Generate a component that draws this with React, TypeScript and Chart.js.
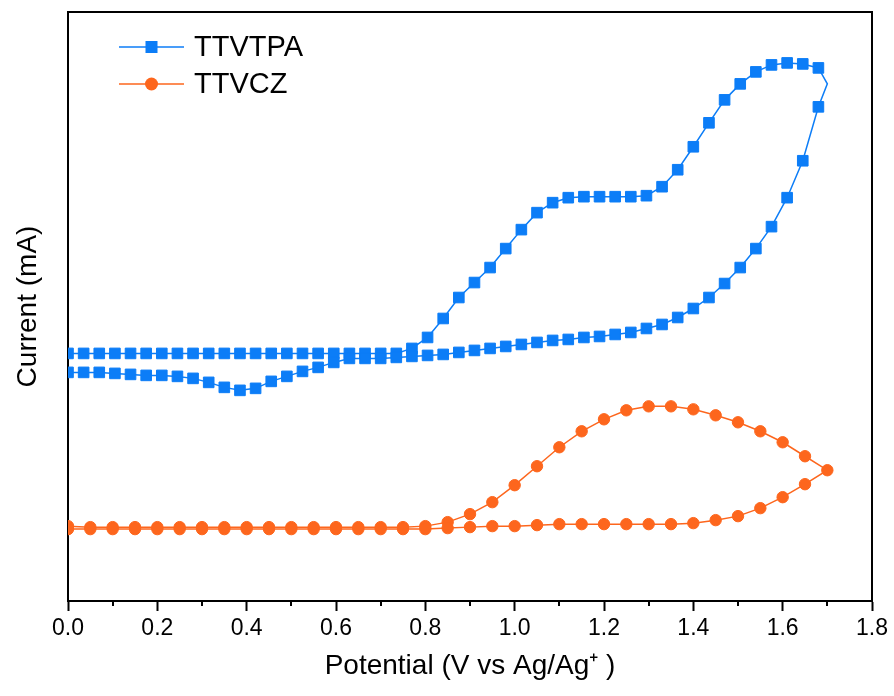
import React, { useEffect, useRef } from 'react';
import { Chart, registerables } from 'chart.js';

Chart.register(...registerables);

// ---- Data (current in arbitrary units) ----
const tpaForwardV = [
  0, 0.035, 0.07, 0.105, 0.14, 0.175, 0.21, 0.245, 0.28, 0.315, 0.35, 0.385, 0.42, 0.455, 0.49, 0.525,
  0.56, 0.595, 0.63, 0.665, 0.7, 0.735, 0.77, 0.805, 0.84, 0.875, 0.91, 0.945, 0.98, 1.015, 1.05, 1.085,
  1.12, 1.155, 1.19, 1.225, 1.26, 1.295, 1.33, 1.365, 1.4, 1.435, 1.47, 1.505, 1.54, 1.575, 1.61, 1.645,
  1.68, 1.7,
];
const tpaForwardI = [
  2.48, 2.48, 2.48, 2.48, 2.48, 2.48, 2.48, 2.48, 2.48, 2.48, 2.48, 2.48, 2.48, 2.48, 2.48, 2.48,
  2.48, 2.48, 2.48, 2.48, 2.48, 2.48, 2.53, 2.64, 2.83, 3.04, 3.19, 3.34, 3.53, 3.72, 3.89, 3.99,
  4.04, 4.05, 4.05, 4.05, 4.05, 4.06, 4.15, 4.32, 4.55, 4.79, 5.02, 5.18, 5.3, 5.37, 5.39, 5.38,
  5.34, 5.18,
];
const tpaReverseV = [
  1.68, 1.645, 1.61, 1.575, 1.54, 1.505, 1.47, 1.435, 1.4, 1.365, 1.33, 1.295, 1.26, 1.225, 1.19, 1.155,
  1.12, 1.085, 1.05, 1.015, 0.98, 0.945, 0.91, 0.875, 0.84, 0.805, 0.77, 0.735, 0.7, 0.665, 0.63, 0.595,
  0.56, 0.525, 0.49, 0.455, 0.42, 0.385, 0.35, 0.315, 0.28, 0.245, 0.21, 0.175, 0.14, 0.105, 0.07, 0.035,
  0,
];
const tpaReverseI = [
  4.95, 4.41, 4.04, 3.75, 3.53, 3.34, 3.18, 3.04, 2.93, 2.84, 2.77, 2.73, 2.69, 2.67, 2.65, 2.64,
  2.62, 2.61, 2.59, 2.57, 2.55, 2.53, 2.51, 2.49, 2.47, 2.46, 2.45, 2.44, 2.43, 2.43, 2.43, 2.39,
  2.34, 2.3, 2.25, 2.2, 2.13, 2.11, 2.14, 2.19, 2.23, 2.25, 2.26, 2.26, 2.27, 2.28, 2.29, 2.29,
  2.29,
];

const czForwardV = [
  0, 0.05, 0.1, 0.15, 0.2, 0.25, 0.3, 0.35, 0.4, 0.45, 0.5, 0.55, 0.6, 0.65, 0.7, 0.75, 0.8,
  0.85, 0.9, 0.95, 1.0, 1.05, 1.1, 1.15, 1.2, 1.25, 1.3, 1.35, 1.4, 1.45, 1.5, 1.55, 1.6, 1.65, 1.7,
];
const czForwardI = [
  0.75, 0.74, 0.74, 0.74, 0.74, 0.74, 0.74, 0.74, 0.74, 0.74, 0.74, 0.74, 0.74, 0.74, 0.74, 0.74, 0.75,
  0.79, 0.87, 0.99, 1.16, 1.35, 1.54, 1.7, 1.82, 1.91, 1.95, 1.95, 1.92, 1.86, 1.79, 1.7, 1.59, 1.45, 1.31,
];
const czReverseV = [
  1.65, 1.6, 1.55, 1.5, 1.45, 1.4, 1.35, 1.3, 1.25, 1.2, 1.15, 1.1, 1.05, 1.0, 0.95, 0.9, 0.85,
  0.8, 0.75, 0.7, 0.65, 0.6, 0.55, 0.5, 0.45, 0.4, 0.35, 0.3, 0.25, 0.2, 0.15, 0.1, 0.05, 0,
];
const czReverseI = [
  1.17, 1.04, 0.93, 0.85, 0.81, 0.78, 0.77, 0.77, 0.77, 0.77, 0.77, 0.77, 0.76, 0.75, 0.75, 0.74, 0.73,
  0.72, 0.72, 0.72, 0.72, 0.72, 0.72, 0.72, 0.72, 0.72, 0.72, 0.72, 0.72, 0.72, 0.72, 0.72, 0.72, 0.72,
];

const seriesLabels = ['TTVTPA', 'TTVCZ'];
const xMin = 0;
const xMax = 1.8;
const xStep = 0.2;
const yMin = 0;
const yMax = 5.9;
const xTitle = 'Potential (V vs Ag/Ag\u207A )';
const yTitle = 'Current (mA)';

const BLUE = '#0c7df7';
const ORANGE = '#fd661d';
const FONT = '"Liberation Sans", Arial, Helvetica, sans-serif';

const toPoints = (v1: number[], i1: number[], v2: number[], i2: number[]) =>
  [...v1.map((x, k) => ({ x, y: i1[k] })), ...v2.map((x, k) => ({ x, y: i2[k] }))];

const boxPlugin = {
  id: 'boxFrame',
  afterDraw(chart: any) {
    const { ctx, chartArea } = chart;
    ctx.save();
    ctx.strokeStyle = '#000';
    ctx.lineWidth = 2;
    ctx.beginPath();
    ctx.moveTo(chartArea.left, chartArea.top);
    ctx.lineTo(chartArea.right, chartArea.top);
    ctx.lineTo(chartArea.right, chartArea.bottom);
    ctx.stroke();
    ctx.restore();
  },
};

const minorTickPlugin = {
  id: 'minorTicks',
  afterDraw(chart: any) {
    const s = chart.scales.x;
    const ticks = s.ticks;
    const { ctx } = chart;
    ctx.save();
    ctx.strokeStyle = '#000';
    ctx.lineWidth = 2;
    for (let k = 0; k < ticks.length - 1; k++) {
      const mid = (ticks[k].value + ticks[k + 1].value) / 2;
      const px = Math.round(s.getPixelForValue(mid));
      ctx.beginPath();
      ctx.moveTo(px, s.top);
      ctx.lineTo(px, s.top + 5);
      ctx.stroke();
    }
    ctx.restore();
  },
};

const legendPlugin = {
  id: 'insideLegend',
  afterDraw(chart: any) {
    const { ctx, chartArea } = chart;
    ctx.save();
    chart.data.datasets.forEach((ds: any, i: number) => {
      const y = chartArea.top + 35 + i * 37;
      const x0 = chartArea.left + 51;
      const x1 = chartArea.left + 116;
      const xm = (x0 + x1) / 2;
      ctx.strokeStyle = ds.borderColor;
      ctx.lineWidth = 1.5;
      ctx.beginPath();
      ctx.moveTo(x0, y);
      ctx.lineTo(x1, y);
      ctx.stroke();
      ctx.fillStyle = ds.backgroundColor;
      if (ds.pointStyle === 'rect') {
        ctx.fillRect(xm - 6, y - 6, 12, 12);
      } else {
        ctx.beginPath();
        ctx.arc(xm, y, 6.5, 0, Math.PI * 2);
        ctx.fill();
      }
      ctx.fillStyle = '#000';
      ctx.font = `29px ${FONT}`;
      ctx.textBaseline = 'middle';
      ctx.textAlign = 'left';
      ctx.fillText(ds.label, chartArea.left + 126, y + 1);
    });
    ctx.restore();
  },
};

export default function App() {
  const canvasRef = useRef<HTMLCanvasElement | null>(null);

  useEffect(() => {
    if (!canvasRef.current) return;
    Chart.defaults.font.family = FONT;
    const turnIndex = tpaForwardV.length - 1;
    const chart = new Chart(canvasRef.current, {
      type: 'scatter',
      data: {
        datasets: [
          {
            label: seriesLabels[0],
            data: toPoints(tpaForwardV, tpaForwardI, tpaReverseV, tpaReverseI),
            showLine: true,
            clip: 0,
            borderColor: BLUE,
            backgroundColor: BLUE,
            borderWidth: 1.5,
            tension: 0,
            pointStyle: 'rect',
            pointRadius: (c: any) => (c.dataIndex === turnIndex ? 0 : 7.5),
            pointBorderWidth: 1,
            pointBackgroundColor: BLUE,
            pointBorderColor: BLUE,
            pointHoverRadius: (c: any) => (c.dataIndex === turnIndex ? 0 : 7.5),
          },
          {
            label: seriesLabels[1],
            data: toPoints(czForwardV, czForwardI, czReverseV, czReverseI),
            showLine: true,
            clip: 0,
            borderColor: ORANGE,
            backgroundColor: ORANGE,
            borderWidth: 1.5,
            tension: 0,
            pointStyle: 'circle',
            pointRadius: 5.7,
            pointBorderWidth: 1,
            pointBackgroundColor: ORANGE,
            pointBorderColor: ORANGE,
            pointHoverRadius: 5.7,
          },
        ],
      } as any,
      options: {
        animation: false,
        responsive: true,
        maintainAspectRatio: false,
        events: [],
        layout: { padding: { left: 0, top: 12, right: 22, bottom: 0 } },
        plugins: {
          legend: { display: false },
          tooltip: { enabled: false },
        },
        scales: {
          x: {
            type: 'linear',
            min: xMin,
            max: xMax,
            ticks: {
              stepSize: xStep,
              callback: (v: any) => Number(v).toFixed(1),
              color: '#000',
              font: { family: FONT, size: 23 },
              padding: 4,
              maxRotation: 0,
            },
            grid: {
              display: true,
              drawOnChartArea: false,
              drawTicks: true,
              tickLength: 10,
              tickWidth: 2,
              tickColor: '#000',
            },
            border: { display: true, color: '#000', width: 2 },
            title: {
              display: true,
              text: xTitle,
              color: '#000',
              font: { family: FONT, size: 28 },
              padding: { top: 0, bottom: 13 },
            },
            afterFit: (s: any) => {
              s.height = 95;
            },
          },
          y: {
            type: 'linear',
            min: yMin,
            max: yMax,
            ticks: { display: false },
            grid: { display: false, drawTicks: false },
            border: { display: true, color: '#000', width: 2 },
            title: {
              display: true,
              text: yTitle,
              color: '#000',
              font: { family: FONT, size: 28 },
              padding: { top: 11, bottom: 0 },
            },
            afterFit: (s: any) => {
              s.width = 68;
            },
          },
        },
      } as any,
      plugins: [boxPlugin, minorTickPlugin, legendPlugin],
    });
    return () => chart.destroy();
  }, []);

  return (
    <div style={{ position: 'fixed', left: 0, top: 0, width: 894, height: 696, background: '#fff' }}>
      <canvas ref={canvasRef} />
    </div>
  );
}
